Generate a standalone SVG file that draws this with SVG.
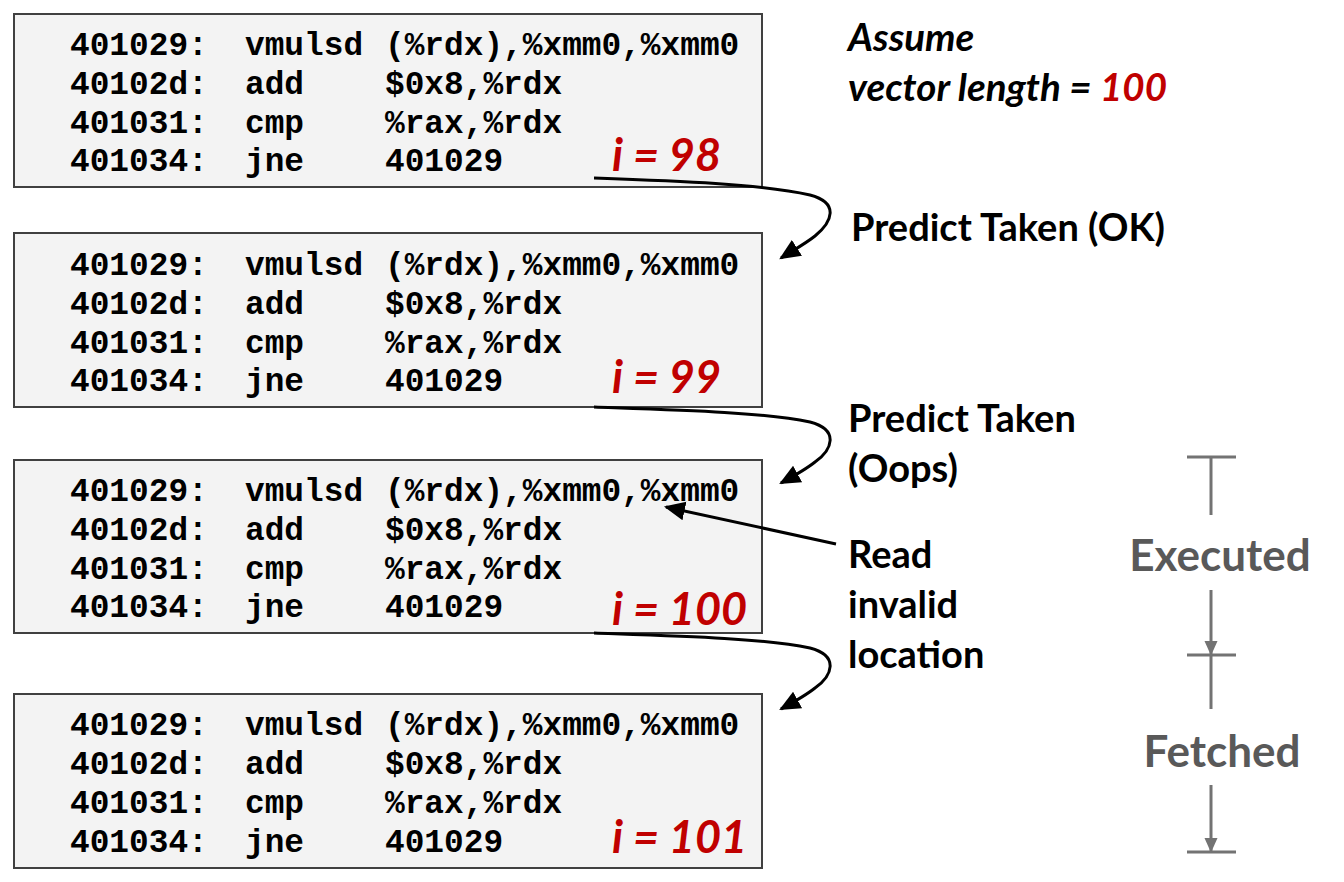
<svg xmlns="http://www.w3.org/2000/svg" width="1344" height="882" viewBox="0 0 1344 882">
  <style>
    .box { fill: #f3f3f3; stroke: #404040; stroke-width: 2; }
    .code { font-family: "Liberation Mono", "Courier New", monospace; font-weight: bold; font-size: 32.8px; fill: #000; }
    .iter { font-family: Lato, "Open Sans", sans-serif; font-weight: bold; font-style: italic; font-size: 45px; fill: #c00000; }
    .lbl { font-family: Lato, "Open Sans", sans-serif; font-weight: bold; font-size: 38px; fill: #000; }
    .note { font-family: Lato, "Open Sans", sans-serif; font-weight: bold; font-style: italic; font-size: 38.5px; fill: #000; }
    .stage { font-family: Lato, "Open Sans", sans-serif; font-weight: bold; font-size: 44px; fill: #595959; text-anchor: middle; }
    .flow { fill: none; stroke: #000; stroke-width: 3; }
    .tick { fill: none; stroke: #737373; stroke-width: 3; }
  </style>
  <defs>
    <marker id="arrowBig" viewBox="0 0 10 10" refX="9" refY="5" markerWidth="7" markerHeight="7" orient="auto">
      <path d="M0,0.5 L10,5 L0,9.5 z" fill="#000"/>
    </marker>
    <marker id="arrowGray" viewBox="0 0 10 10" refX="9" refY="5" markerWidth="5" markerHeight="5" orient="auto">
      <path d="M0,0.5 L10,5 L0,9.5 z" fill="#737373"/>
    </marker>
  </defs>

  <!-- iteration i = 98 -->
  <g id="iter98">
    <rect class="box" x="14" y="14" width="748" height="173"/>
    <text class="code"><tspan x="70" y="55">401029:</tspan><tspan x="245" y="55">vmulsd</tspan><tspan x="385" y="55">(%rdx),%xmm0,%xmm0</tspan></text>
    <text class="code"><tspan x="70" y="94">40102d:</tspan><tspan x="245" y="94">add</tspan><tspan x="385" y="94">$0x8,%rdx</tspan></text>
    <text class="code"><tspan x="70" y="133">401031:</tspan><tspan x="245" y="133">cmp</tspan><tspan x="385" y="133">%rax,%rdx</tspan></text>
    <text class="code"><tspan x="70" y="171">401034:</tspan><tspan x="245" y="171">jne</tspan><tspan x="385" y="171">401029</tspan></text>
    <text class="iter" x="612" y="171">i = 98</text>
  </g>

  <!-- iteration i = 99 -->
  <g id="iter99">
    <rect class="box" x="14" y="233" width="748" height="174"/>
    <text class="code"><tspan x="70" y="275">401029:</tspan><tspan x="245" y="275">vmulsd</tspan><tspan x="385" y="275">(%rdx),%xmm0,%xmm0</tspan></text>
    <text class="code"><tspan x="70" y="314">40102d:</tspan><tspan x="245" y="314">add</tspan><tspan x="385" y="314">$0x8,%rdx</tspan></text>
    <text class="code"><tspan x="70" y="353">401031:</tspan><tspan x="245" y="353">cmp</tspan><tspan x="385" y="353">%rax,%rdx</tspan></text>
    <text class="code"><tspan x="70" y="391">401034:</tspan><tspan x="245" y="391">jne</tspan><tspan x="385" y="391">401029</tspan></text>
    <text class="iter" x="612" y="393">i = 99</text>
  </g>

  <!-- iteration i = 100 -->
  <g id="iter100">
    <rect class="box" x="14" y="460" width="748" height="173"/>
    <text class="code"><tspan x="70" y="501">401029:</tspan><tspan x="245" y="501">vmulsd</tspan><tspan x="385" y="501">(%rdx),%xmm0,%xmm0</tspan></text>
    <text class="code"><tspan x="70" y="540">40102d:</tspan><tspan x="245" y="540">add</tspan><tspan x="385" y="540">$0x8,%rdx</tspan></text>
    <text class="code"><tspan x="70" y="579">401031:</tspan><tspan x="245" y="579">cmp</tspan><tspan x="385" y="579">%rax,%rdx</tspan></text>
    <text class="code"><tspan x="70" y="617">401034:</tspan><tspan x="245" y="617">jne</tspan><tspan x="385" y="617">401029</tspan></text>
    <text class="iter" x="612" y="625">i = 100</text>
  </g>

  <!-- iteration i = 101 -->
  <g id="iter101">
    <rect class="box" x="14" y="694" width="748" height="174"/>
    <text class="code"><tspan x="70" y="735">401029:</tspan><tspan x="245" y="735">vmulsd</tspan><tspan x="385" y="735">(%rdx),%xmm0,%xmm0</tspan></text>
    <text class="code"><tspan x="70" y="774">40102d:</tspan><tspan x="245" y="774">add</tspan><tspan x="385" y="774">$0x8,%rdx</tspan></text>
    <text class="code"><tspan x="70" y="813">401031:</tspan><tspan x="245" y="813">cmp</tspan><tspan x="385" y="813">%rax,%rdx</tspan></text>
    <text class="code"><tspan x="70" y="852">401034:</tspan><tspan x="245" y="852">jne</tspan><tspan x="385" y="852">401029</tspan></text>
    <text class="iter" x="612" y="853">i = 101</text>
  </g>

  <!-- side notes -->
  <g id="assume">
    <text class="note" x="848" y="51">Assume</text>
    <text class="note" x="848" y="101">vector length = <tspan fill="#c00000">100</tspan></text>
  </g>
  <g id="predict-ok">
    <text class="lbl" x="851" y="241">Predict Taken (OK)</text>
  </g>
  <g id="predict-oops">
    <text class="lbl" x="848" y="432">Predict Taken</text>
    <text class="lbl" x="848" y="482">(Oops)</text>
  </g>
  <g id="read-invalid">
    <text class="lbl" x="848" y="568">Read</text>
    <text class="lbl" x="848" y="618">invalid</text>
    <text class="lbl" x="848" y="668">location</text>
  </g>

  <!-- connectors -->
  <g id="connectors">
    <path class="flow" marker-end="url(#arrowBig)" d="M594,178 C680,181 760,184 810,195 C840,203 832,222 815,236 C805,244 792,251 781,258"/>
    <path class="flow" marker-end="url(#arrowBig)" d="M594,407 C680,410 760,412 810,422 C840,430 832,450 815,462 C805,470 792,477 781,483"/>
    <path class="flow" marker-end="url(#arrowBig)" d="M594,633 C680,636 760,638 810,648 C840,656 832,676 815,688 C805,696 792,703 781,709"/>
    <line class="flow" marker-end="url(#arrowBig)" x1="836" y1="544" x2="666" y2="507"/>
  </g>

  <!-- executed / fetched scale -->
  <g id="stages">
    <line class="tick" x1="1187" y1="457" x2="1236" y2="457"/>
    <line class="tick" x1="1211" y1="457" x2="1211" y2="515"/>
    <text class="stage" x="1220" y="571">Executed</text>
    <line class="tick" marker-end="url(#arrowGray)" x1="1211" y1="590" x2="1211" y2="654"/>
    <line class="tick" x1="1187" y1="655" x2="1236" y2="655"/>
    <line class="tick" x1="1211" y1="655" x2="1211" y2="709"/>
    <text class="stage" x="1222" y="767">Fetched</text>
    <line class="tick" marker-end="url(#arrowGray)" x1="1211" y1="785" x2="1211" y2="851"/>
    <line class="tick" x1="1187" y1="852" x2="1236" y2="852"/>
  </g>
</svg>
